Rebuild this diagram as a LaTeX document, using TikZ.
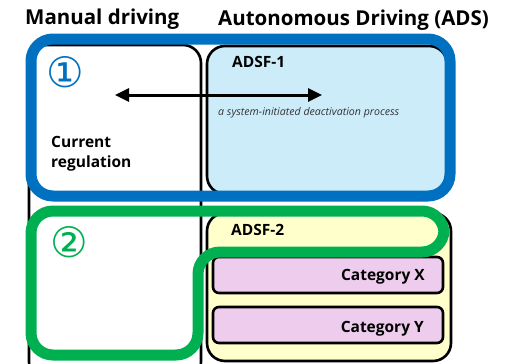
\documentclass[tikz,border=0pt]{standalone}
\usepackage{fontspec}
\setmainfont{Open Sans}
\newfontfamily\circfont{DejaVu Sans}
\usetikzlibrary{arrows.meta}

\definecolor{adsblue}{HTML}{0070C0}
\definecolor{adsgreen}{HTML}{00B050}
\definecolor{skyfill}{HTML}{CCECFA}
\definecolor{creamfill}{HTML}{FFFFCC}
\definecolor{pinkfill}{HTML}{EECCEE}

\begin{document}
\begin{tikzpicture}[x=1pt,y=-1pt,
    frame/.style={draw=black, line width=2.6pt, rounded corners=18pt},
    catbox/.style={draw=black, line width=2.6pt, rounded corners=6pt, fill=pinkfill},
    ring/.style={line width=11pt, rounded corners=22pt},
    head/.style={font=\bfseries\fontsize{20.5}{24}\selectfont, inner sep=0pt, anchor=base west},
    lbl/.style={font=\bfseries\fontsize{15.5}{18}\selectfont, inner sep=0pt, anchor=base west},
    num/.style={font=\circfont\fontsize{42}{42}\selectfont, inner sep=0pt}]
    \useasboundingbox (0,0) rectangle (507,364);

    % columns and boxes
    \draw[frame, fill=white] (29,45) rectangle (201,380);
    \draw[frame, fill=skyfill] (207,46) rectangle (447,194);
    \draw[frame, fill=creamfill] (207,213) rectangle (451,361);
    \draw[catbox] (213,257) rectangle (443,293);
    \draw[catbox] (213,307) rectangle (443,343);

    % headings
    \node[head] (manual) at (25,24) {Manual driving};
    \node[head] (auto) at (218,26) {Autonomous Driving (ADS)};

    % labels
    \node[lbl] (adsf1) at (232,67) {ADSF-1};
    \node[lbl] (cur) at (51,147) {Current};
    \node[lbl] (reg) at (51,167) {regulation};
    \node[font=\itshape\fontsize{10.6}{12}\selectfont, inner sep=0pt, anchor=base west, text=black!80] (deact) at (218,115) {a system-initiated deactivation process};
    \node[lbl] (adsf2) at (231,235) {ADSF-2};
    \node[lbl, anchor=base east] (catx) at (425,280) {Category X};
    \node[lbl, anchor=base east] (caty) at (424,332) {Category Y};

    % handover arrow
    \coordinate (ha) at (115,95);
    \coordinate (hb) at (322,95);
    \draw[line width=3pt, {Triangle[length=14pt,width=13pt]}-{Triangle[length=14pt,width=13pt]}] (ha) -- (hb);

    % scope outlines
    \draw[ring, draw=adsblue] (31,39) rectangle (450,196);
    \draw[ring, draw=adsgreen] (31,211) -- (444,211) -- (444,252) -- (198,252) -- (198,355) -- (31,355) -- cycle;

    \node[num, text=adsblue] (one) at (65,72) {①};
    \node[num, text=adsgreen] (two) at (69,242) {②};
\end{tikzpicture}
\end{document}
